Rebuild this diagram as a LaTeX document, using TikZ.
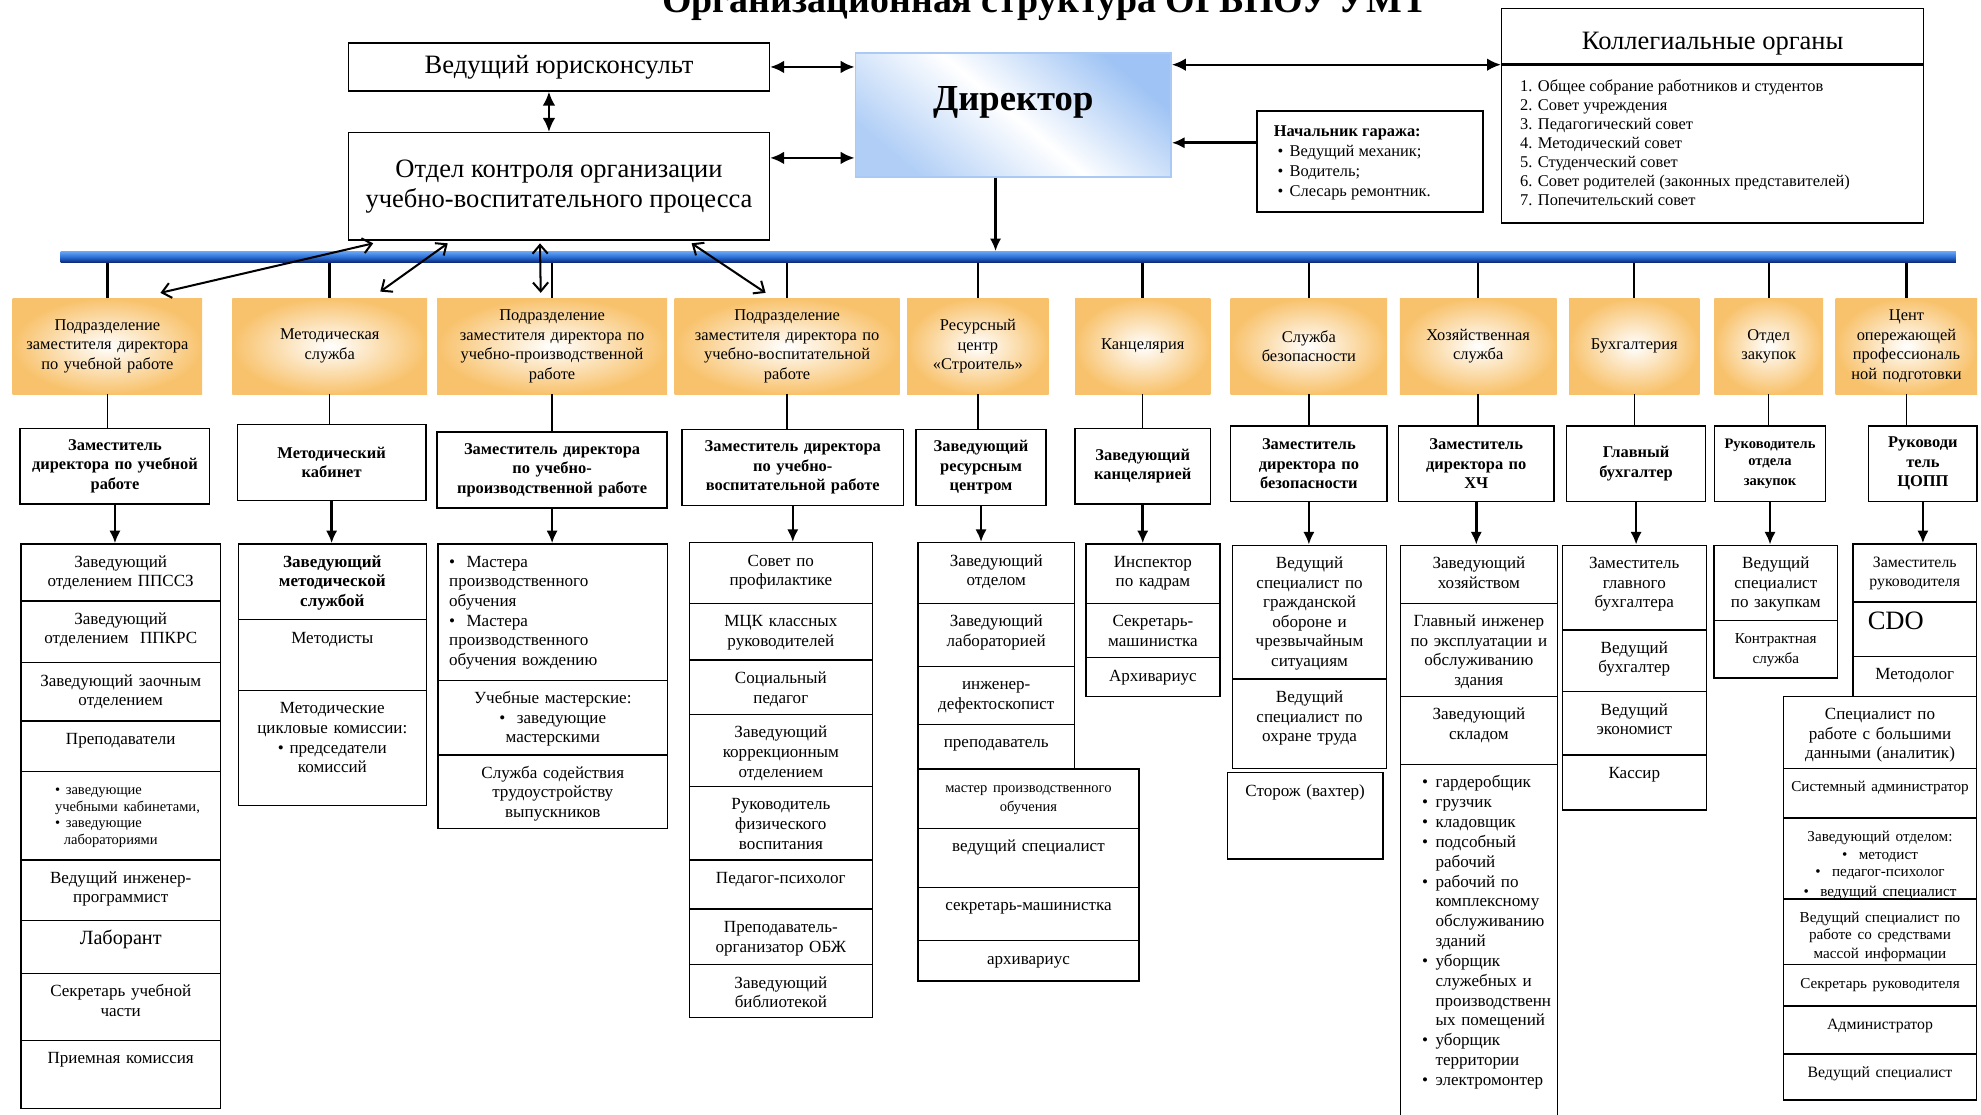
\documentclass[tikz,border=0pt]{standalone}
\usepackage{fontspec}
\setmainfont{Liberation Serif}
\usetikzlibrary{calc,positioning,arrows.meta}

\definecolor{dirblue}{RGB}{158,195,244}
\definecolor{dirline}{RGB}{170,202,245}
\definecolor{hdrorange}{RGB}{248,194,108}
\definecolor{bartop}{RGB}{105,165,245}
\definecolor{barmid}{RGB}{40,110,215}
\definecolor{barbot}{RGB}{12,35,110}

\newcommand\fs[2]{\fontsize{#1}{#2}\selectfont}

\tikzset{
  box/.style={draw, line width=1.2pt, inner sep=2pt, align=center},
  hdr/.style={inner sep=2pt, align=center, inner color=white, outer color=hdrorange, font=\fs{13}{15.5}},
  chief/.style={box, font=\fs{13}{15.5}\bfseries},
  cellbox/.style={draw, line width=1.1pt, anchor=north west, inner sep=0pt},
  celltxt/.style={anchor=north, yshift=-8pt, inner sep=0pt, align=center, text width=#1, font=\fs{13.5}{15.5}, execute at begin node={\noindent\strut}},
  barline/.style={line width=2pt},
  subline/.style={line width=1.1pt},
  arrdown/.style={line width=2pt, -{Latex[length=10pt,width=9pt]}},
  arrboth/.style={line width=1.8pt, {Latex[length=11pt,width=10pt]}-{Latex[length=11pt,width=10pt]}},
  arropen/.style={line width=1.6pt, {Straight Barb[length=7pt,width=12pt]}-{Straight Barb[length=7pt,width=12pt]}},
}

\begin{document}
\begin{tikzpicture}[x=1pt, y=-1pt]
\useasboundingbox (0,0) rectangle (1568,882);

% title, cut by the upper edge
\node[font=\fs{30}{32}\bfseries, anchor=base] (title) at (827,10) {Организационная структура ОГБПОУ УМТ};

% top level
\node[box, minimum width=333pt, minimum height=38pt, font=\fs{21}{24}] (jur) at (442.5,53) {Ведущий юрисконсульт};
\node[box, minimum width=333pt, minimum height=85pt, font=\fs{21}{24}] (otdel) at (442.5,147.5) {Отдел контроля организации\\учебно-воспитательного процесса};
\node[minimum width=250pt, minimum height=98pt, text depth=26pt, draw=dirline, line width=1.2pt, top color=dirblue, bottom color=dirblue!80, middle color=white, shading angle=-40, font=\fs{29}{32}\bfseries] (dir) at (802,91) {Директор};

\node[box, minimum width=334pt, minimum height=170pt, anchor=north west] (kol) at (1188,6) {};
\node[draw, line width=1.2pt, minimum width=334pt, minimum height=44pt, text height=25pt, anchor=north west, font=\fs{21}{24}] (kolt) at (1188,6) {Коллегиальные органы};
\draw[line width=2pt] (kolt.south west) -- (kolt.south east);
\node[anchor=north west, align=left, inner sep=0pt, font=\fs{13}{15}] (kolist) at (1203,63) {1. Общее собрание работников и студентов\\2. Совет учреждения\\3. Педагогический совет\\4. Методический совет\\5. Студенческий совет\\6. Совет родителей (законных представителей)\\7. Попечительский совет};

\node[box, minimum width=179pt, minimum height=80pt] (gar) at (1084.5,128) {};
\node[anchor=north west, align=left, inner sep=0pt, font=\fs{13}{16}] (gartxt) at (1008,99) {\textbf{Начальник гаража:}\\\hspace*{3pt}•\hspace{5pt}Ведущий механик;\\\hspace*{3pt}•\hspace{5pt}Водитель;\\\hspace*{3pt}•\hspace{5pt}Слесарь ремонтник.};

\draw[arrboth] (jur.east) -- (jur.east -| dir.west);
\draw[arrboth] ([yshift=22.5pt]otdel.east) -- ([yshift=22.5pt]otdel.east -| dir.west);
\draw[arrboth] (kolt.south west) -- (kolt.south west -| dir.east);
\draw[arrdown] ([yshift=15pt]gar.west) -- ([yshift=15pt]gar.west -| dir.east);
\draw[arrboth] ([xshift=-8pt]jur.south) -- ([xshift=-8pt]otdel.north);

% blue bar
\node[inner sep=0pt, minimum width=1500pt, minimum height=9pt, top color=bartop, bottom color=barbot, middle color=barmid] (bar) at (798,203.5) {};
\draw[arrdown] ([xshift=-14pt]dir.south) -- ([xshift=-14pt]dir.south |- bar.north);

% departments
\foreach \n/\cx/\w/\txt in {
    1/85/150/{Подразделение\\заместителя директора\\по учебной работе},
    2/261/154/{Методическая\\служба},
    3/437/182/{Подразделение\\заместителя директора по\\учебно-производственной\\работе},
    4/623/178/{Подразделение\\заместителя директора по\\учебно-воспитательной\\работе},
    5/774/112/{Ресурсный\\центр\\«Строитель»},
    6/904.5/107/{Канцелярия},
    7/1036/124/{Служба\\безопасности},
    8/1170/124/{Хозяйственная\\служба},
    9/1293.5/103/{Бухгалтерия},
    10/1400/86/{Отдел\\закупок},
    11/1509/112/{Цент\\опережающей\\профессиональ\\ной подготовки}}
  {
    \pgfmathsetmacro\tw{\w-6}
    \node[hdr, minimum width=\w pt, minimum height=76pt, text width=\tw pt] (h\n) at (\cx,274) {\txt};
  }

% heads of departments
\foreach \n/\cx/\cy/\w/\txt in {
    1/91/369/150/{Заместитель\\директора по учебной\\работе},
    2/262.5/366/149/{Методический\\кабинет},
    3/437/372/182/{Заместитель директора\\по учебно-\\производственной работе},
    4/627.5/370/175/{Заместитель директора\\по учебно-\\воспитательной работе},
    5/776.5/370/103/{Заведующий\\ресурсным\\центром},
    6/904.5/369/107/{Заведующий\\канцелярией},
    7/1036/367/124/{Заместитель\\директора по\\безопасности},
    8/1168.5/367/123/{Заместитель\\директора по\\ХЧ},
    9/1295/367/110/{Главный\\бухгалтер},
    10/1401/367/88/{\fs{11.5}{14}Руководитель\\отдела\\закупок},
    11/1522/367/86/{Руководи\\тель\\ЦОПП}}
  {
    \pgfmathsetmacro\tw{\w-4}
    \node[chief, minimum width=\w pt, minimum height=60pt, text width=\tw pt] (s\n) at (\cx,\cy) {\txt};
  }

\foreach \n in {1,...,11} {
  \draw[barline] (bar.south -| h\n.north) -- (h\n.north);
  \draw[subline] (h\n.south) -- (h\n.south |- s\n.north);
}

\draw[arropen] ([xshift=20pt,yshift=-2pt]otdel.south west) -- ([xshift=42pt,yshift=4pt]h1.north);
\draw[arropen] ([xshift=79pt,yshift=-2pt]otdel.south west) -- ([xshift=40pt,yshift=5pt]h2.north);
\draw[arropen] ([xshift=152pt,yshift=-2pt]otdel.south west) -- ([xshift=-9pt,yshift=4pt]h3.north);
\draw[arropen] ([xshift=272pt,yshift=-2pt]otdel.south west) -- ([xshift=-17pt,yshift=4pt]h4.north);

% column 1
\foreach \yt/\yb/\txt [count=\i] in {
    430/475/{Заведующий\\отделением ППССЗ},
    475/524/{Заведующий\\отделением\ \ ППКРС},
    524/570/{Заведующий заочным\\отделением},
    570/610/{Преподаватели},
    610/680/{\fs{11.5}{13}\raggedright\leftskip=26pt •\ заведующие\\учебными кабинетами,\\•\ заведующие\\\hspace*{7pt}лабораториями\endgraf},
    680/728/{Ведущий инженер-\\программист},
    728/770/{\fs{16}{18}Лаборант},
    770/823/{Секретарь учебной\\части},
    823/877/{Приемная комиссия}}
  {
    \pgfmathsetmacro\hh{\yb-\yt}
    \node[cellbox, minimum width=158pt, minimum height=\hh pt] (u\i) at (16,\yt) {};
    \node[celltxt=156pt] (tu\i) at (u\i.north) {\txt};
  }

% column 2
\foreach \yt/\yb/\txt [count=\i] in {
    430/490/{\bfseries Заведующий\\методической\\службой},
    490/546/{Методисты},
    546/637/{Методические\\цикловые комиссии:\\•\ председатели\\комиссий}}
  {
    \pgfmathsetmacro\hh{\yb-\yt}
    \node[cellbox, minimum width=149pt, minimum height=\hh pt] (m\i) at (188,\yt) {};
    \node[celltxt=147pt] (tm\i) at (m\i.north) {\txt};
  }

% column 3
\foreach \yt/\yb/\txt [count=\i] in {
    430/538/{\raggedright\leftskip=8pt •\ \ Мастера\\производственного\\обучения\\•\ \ Мастера\\производственного\\обучения вождению\endgraf},
    538/597/{Учебные мастерские:\\•\ \ заведующие\\мастерскими},
    597/655/{Служба содействия\\трудоустройству\\выпускников}}
  {
    \pgfmathsetmacro\hh{\yb-\yt}
    \node[cellbox, minimum width=182pt, minimum height=\hh pt] (p\i) at (346,\yt) {};
    \node[celltxt=180pt] (tp\i) at (p\i.north) {\txt};
  }

% column 4
\foreach \yt/\yb/\txt [count=\i] in {
    429/477/{Совет по\\профилактике},
    477/522/{МЦК классных\\руководителей},
    522/565/{Социальный\\педагог},
    565/622/{Заведующий\\коррекционным\\отделением},
    622/680/{Руководитель\\физического\\воспитания},
    680/719/{Педагог-психолог},
    719/763/{Преподаватель-\\организатор ОБЖ},
    763/805/{Заведующий\\библиотекой}}
  {
    \pgfmathsetmacro\hh{\yb-\yt}
    \node[cellbox, minimum width=145pt, minimum height=\hh pt] (v\i) at (545,\yt) {};
    \node[celltxt=143pt] (tv\i) at (v\i.north) {\txt};
  }

% column 5
\foreach \yt/\yb/\txt [count=\i] in {
    429/477/{Заведующий\\отделом},
    477/527/{Заведующий\\лабораторией},
    527/573/{инженер-\\дефектоскопист},
    573/608/{преподаватель}}
  {
    \pgfmathsetmacro\hh{\yb-\yt}
    \node[cellbox, minimum width=124pt, minimum height=\hh pt] (r\i) at (726,\yt) {};
    \node[celltxt=122pt] (tr\i) at (r\i.north) {\txt};
  }
\foreach \yt/\yb/\txt [count=\i] in {
    608/655/{\fs{11.5}{13}мастер производственного\\обучения},
    655/702/{ведущий специалист},
    702/744/{секретарь-машинистка},
    744/776/{архивариус}}
  {
    \pgfmathsetmacro\hh{\yb-\yt}
    \node[cellbox, minimum width=175pt, minimum height=\hh pt] (rr\i) at (726,\yt) {};
    \node[celltxt=173pt] (trr\i) at (rr\i.north) {\txt};
  }

% column 6
\foreach \yt/\yb/\txt [count=\i] in {
    430/477/{Инспектор\\по кадрам},
    477/520/{Секретарь-\\машинистка},
    520/550.5/{Архивариус}}
  {
    \pgfmathsetmacro\hh{\yb-\yt}
    \node[cellbox, minimum width=106pt, minimum height=\hh pt] (k\i) at (859,\yt) {};
    \node[celltxt=104pt] (tk\i) at (k\i.north) {\txt};
  }

% column 7
\foreach \yt/\yb/\txt [count=\i] in {
    431/537/{Ведущий\\специалист по\\гражданской\\обороне и\\чрезвычайным\\ситуациям},
    537/607.5/{Ведущий\\специалист по\\охране труда}}
  {
    \pgfmathsetmacro\hh{\yb-\yt}
    \node[cellbox, minimum width=122pt, minimum height=\hh pt] (b\i) at (975,\yt) {};
    \node[celltxt=120pt] (tb\i) at (b\i.north) {\txt};
  }
\node[cellbox, minimum width=123pt, minimum height=68.5pt] (bb) at (971,611) {};
\node[celltxt=121pt] (tbb) at (bb.north) {Сторож (вахтер)};

% column 8
\foreach \yt/\yb/\txt [count=\i] in {
    431/477/{Заведующий\\хозяйством},
    477/550.5/{Главный инженер\\по эксплуатации и\\обслуживанию\\здания},
    550.5/604.5/{Заведующий\\складом},
    604.5/900/{\fs{13.5}{15.7}\raggedright\leftskip=16pt\begin{tabular}[t]{@{}l@{\hspace{6pt}}l@{}}•&гардеробщик\\•&грузчик\\•&кладовщик\\•&подсобный\\&рабочий\\•&рабочий по\\&комплексному\\&обслуживанию\\&зданий\\•&уборщик\\&служебных и\\&производственн\\&ых помещений\\•&уборщик\\&территории\\•&электромонтер\end{tabular}\endgraf}}
  {
    \pgfmathsetmacro\hh{\yb-\yt}
    \node[cellbox, minimum width=124pt, minimum height=\hh pt] (x\i) at (1108,\yt) {};
    \node[celltxt=122pt] (tx\i) at (x\i.north) {\txt};
  }

% column 9
\foreach \yt/\yb/\txt [count=\i] in {
    431/498/{Заместитель\\главного\\бухгалтера},
    498/547/{Ведущий\\бухгалтер},
    547/597/{Ведущий\\экономист},
    597/640.5/{Кассир}}
  {
    \pgfmathsetmacro\hh{\yb-\yt}
    \node[cellbox, minimum width=114pt, minimum height=\hh pt] (a\i) at (1236,\yt) {};
    \node[celltxt=112pt] (ta\i) at (a\i.north) {\txt};
  }

% column 10
\foreach \yt/\yb/\txt [count=\i] in {
    431/490.5/{Ведущий\\специалист\\по закупкам},
    490.5/536/{\fs{12}{13}Контрактная\\служба}}
  {
    \pgfmathsetmacro\hh{\yb-\yt}
    \node[cellbox, minimum width=98pt, minimum height=\hh pt] (z\i) at (1356,\yt) {};
    \node[celltxt=96pt] (tz\i) at (z\i.north) {\txt};
  }

% column 11
\foreach \yt/\yb/\txt [count=\i] in {
    430/476/{\fs{12.5}{15}Заместитель\\руководителя},
    476/519/{\fs{21}{22}\hspace*{-30pt}CDO},
    519/550.5/{Методолог}}
  {
    \pgfmathsetmacro\hh{\yb-\yt}
    \node[cellbox, minimum width=98pt, minimum height=\hh pt] (c\i) at (1466,\yt) {};
    \node[celltxt=96pt] (tc\i) at (c\i.north) {\txt};
  }
\foreach \yt/\yb/\txt [count=\i] in {
    550.5/607.5/{Специалист по\\работе с большими\\данными (аналитик)},
    607.5/647/{\fs{12}{14}Системный администратор},
    647/711/{\fs{12}{14}Заведующий отделом:\\•\ \ методист\\•\ \ педагог-психолог\\•\ \ ведущий специалист},
    711/763/{\fs{12}{13.5}Ведущий специалист по\\работе со средствами\\массой информации},
    763/795.6/{\fs{12}{14}Секретарь руководителя},
    795.6/833.7/{\fs{12.5}{14}Администратор},
    833.7/870/{\fs{12.5}{14}Ведущий специалист}}
  {
    \pgfmathsetmacro\hh{\yb-\yt}
    \node[cellbox, minimum width=153pt, minimum height=\hh pt] (cc\i) at (1411,\yt) {};
    \node[celltxt=151pt] (tcc\i) at (cc\i.north) {\txt};
  }

\foreach \n/\first in {1/u1,2/m1,3/p1,4/v1,5/r1,6/k1,7/b1,8/x1,9/a1,10/z1,11/c1}
  \draw[arrdown] (s\n.south) -- (s\n.south |- \first.north);

\end{tikzpicture}
\end{document}
